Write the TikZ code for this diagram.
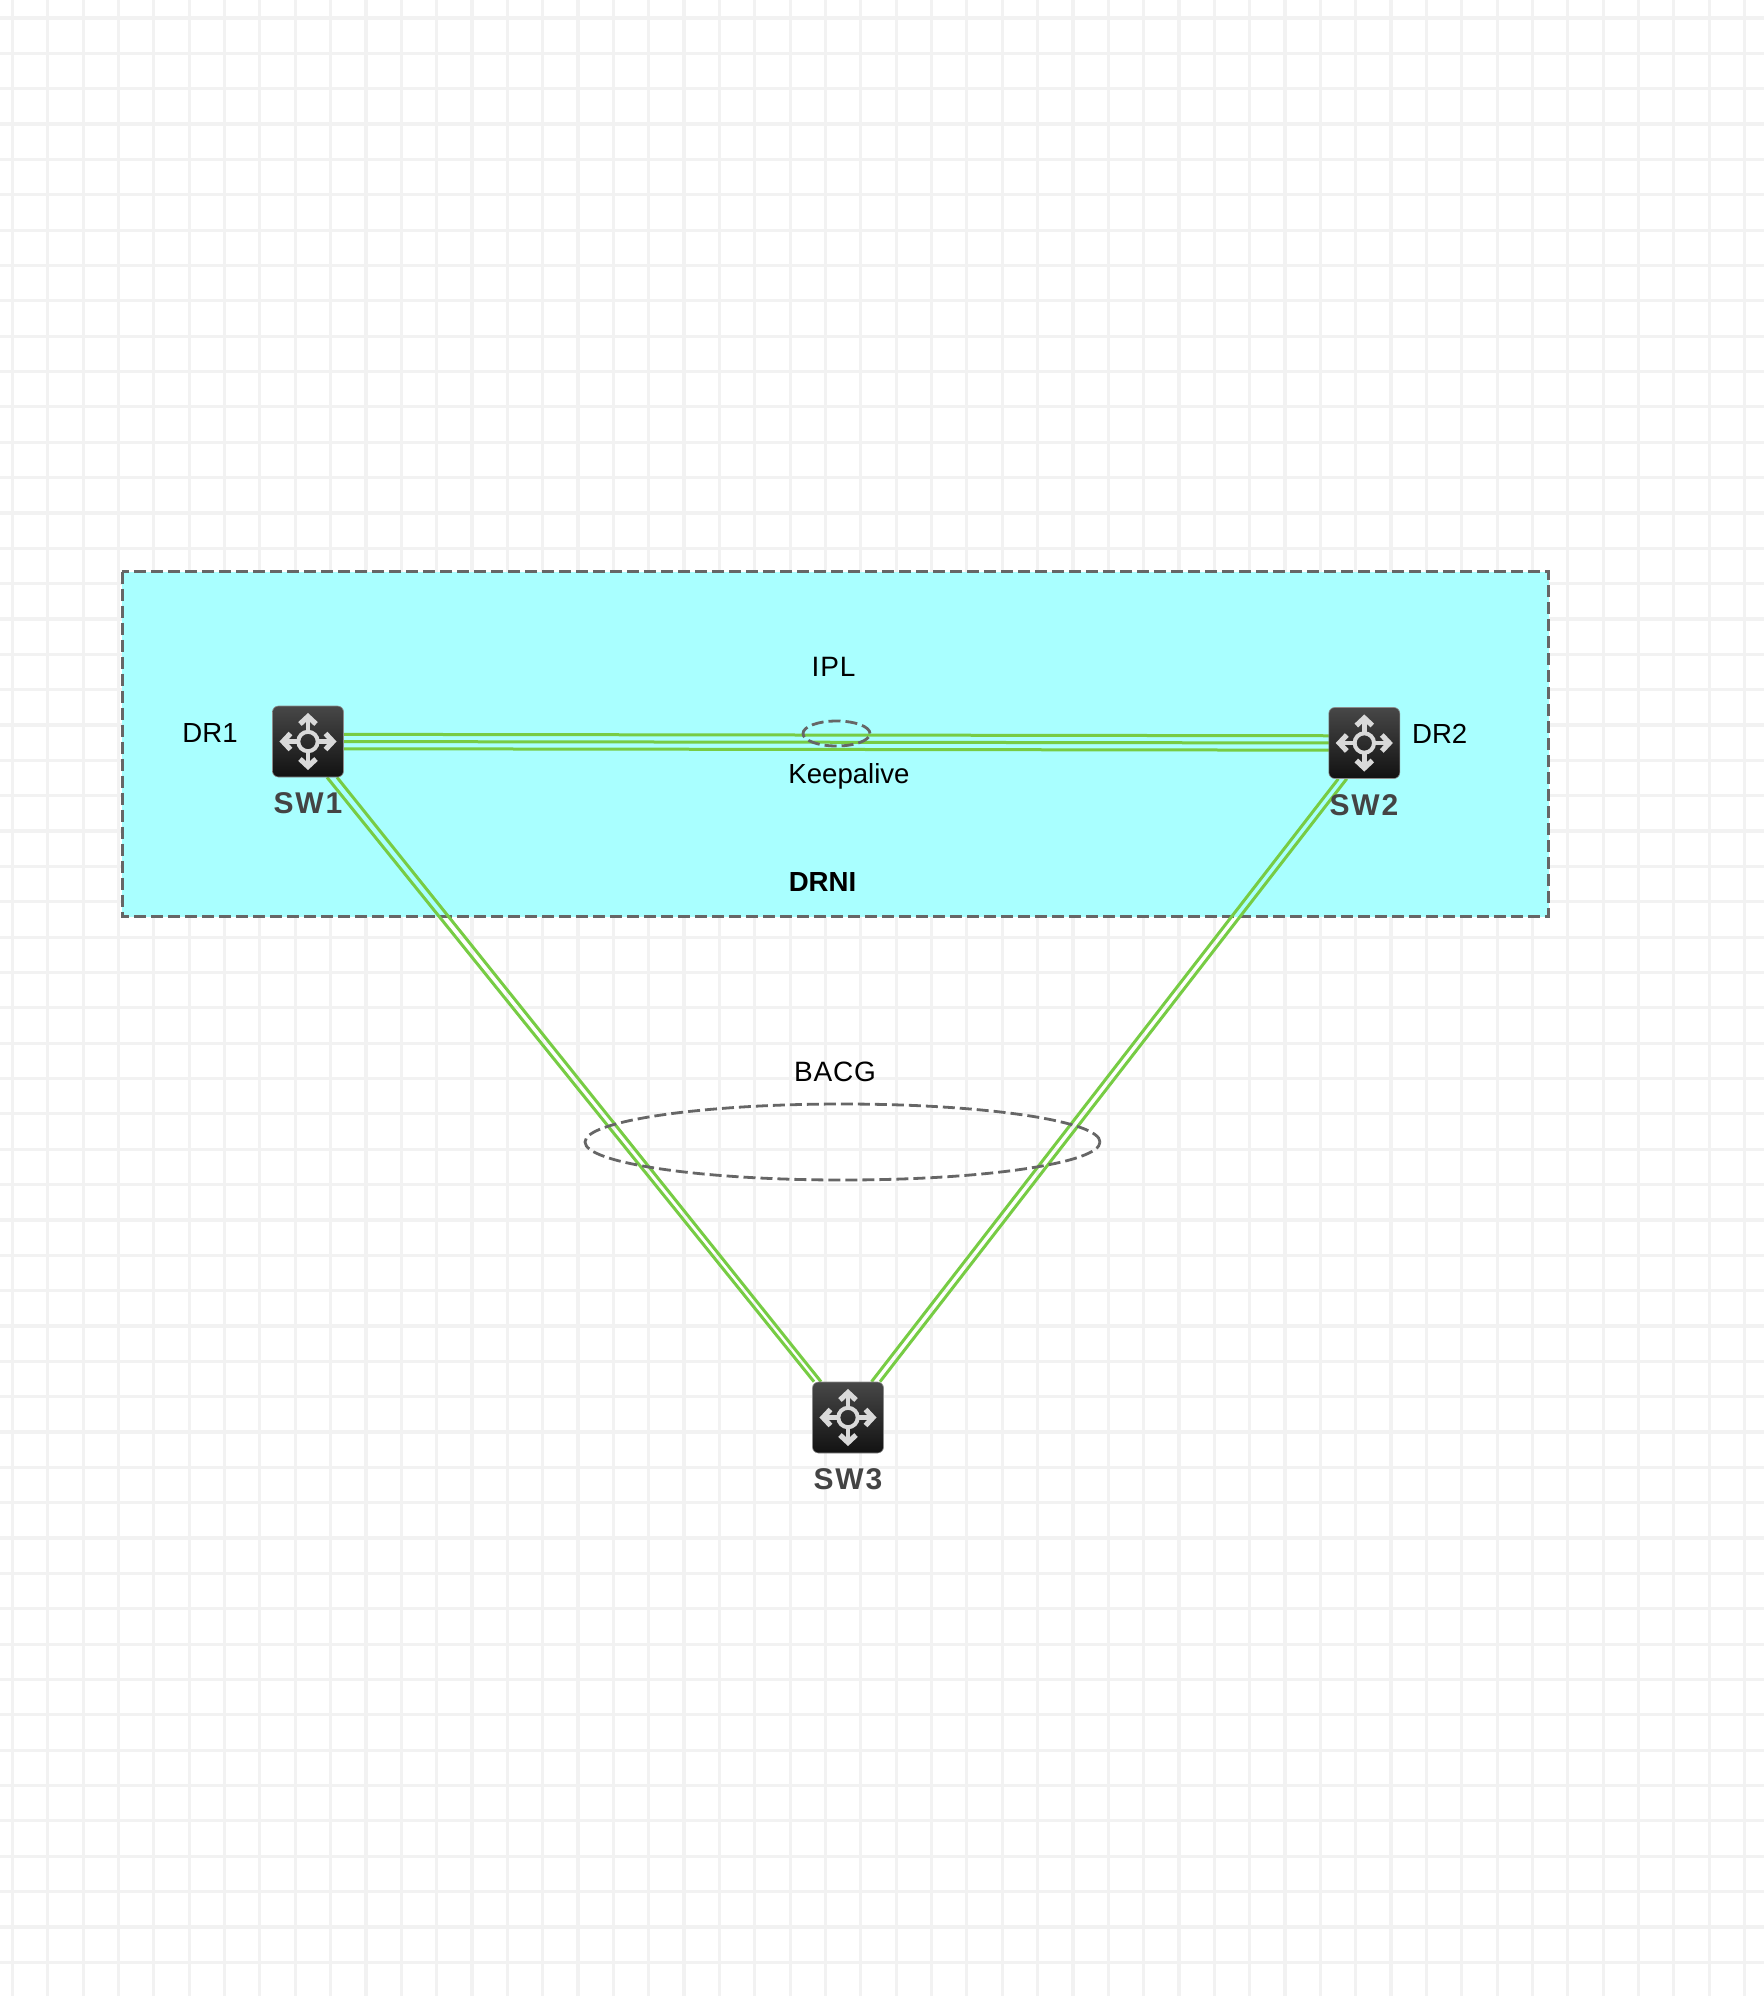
\documentclass[tikz,border=0pt]{standalone}
\usepackage{fontspec}
\setmainfont{Liberation Sans}
\newfontfamily\trackedfont[LetterSpace=3]{Liberation Sans}
\newfontfamily\swfont[LetterSpace=6]{Liberation Sans}
\usetikzlibrary{calc,shapes.geometric}
\pgfdeclarelayer{gridlayer}
\pgfdeclarelayer{linklayer}
\pgfsetlayers{gridlayer,linklayer,main}
\definecolor{gridc}{HTML}{F2F2F2}
\definecolor{zonec}{HTML}{A9FFFF}
\definecolor{dashc}{HTML}{666666}
\definecolor{linkc}{HTML}{77CC44}
\definecolor{swtext}{HTML}{444444}
\definecolor{iconc}{HTML}{D9D9D9}
\tikzset{
  x=0.5pt,y=-0.5pt,
  gridline/.style={gridc,line width=1.6pt},
  zone/.style={draw=dashc,fill=zonec,line width=1.5pt,dash pattern=on 6pt off 2.5pt},
  ring/.style={ellipse,draw=dashc,line width=1.4pt,dash pattern=on 6pt off 2.5pt,inner sep=0pt},
  link/.style={linkc,line width=1.5pt},
  swbox/.style={rectangle,rounded corners=3pt,minimum size=35.5pt,inner sep=0pt,
    draw=black!45,line width=0.3pt,top color=black!72,bottom color=black!93},
  swlabel/.style={anchor=base,inner sep=0pt,text=swtext,font={\swfont\fontsize{15}{18}\selectfont\bfseries}},
  plainlabel/.style={anchor=base,inner sep=0pt,text=black,font={\fontsize{13.8}{16}\selectfont}},
  tracklabel/.style={anchor=base,inner sep=0pt,text=black,font={\trackedfont\fontsize{14}{16}\selectfont}},
  swarrows/.pic={
    \draw[iconc,line width=2pt] (0,0) circle[radius=9.7];
    \foreach \a in {0,90,180,270}{
      \begin{scope}[rotate=\a]
        \draw[iconc,line width=2.4pt] (11,0)--(25,0);
        \draw[iconc,line width=2.6pt,miter limit=10] (17.5,-8)--(25,0)--(17.5,8);
      \end{scope}
    }
  }
}
\begin{document}
\begin{tikzpicture}
\useasboundingbox (0,0) rectangle (1764,1996);
\begin{pgfonlayer}{gridlayer}
  \fill[white] (0,0) rectangle (1764,1996);
  \foreach \k in {0,...,49} \draw[gridline] ({12.4+35.35*\k},0)--({12.4+35.35*\k},1996);
  \foreach \k in {0,...,56} \draw[gridline] (0,{18+35.35*\k})--(1764,{18+35.35*\k});
  \draw[zone] (122,571.5) rectangle (1548.5,916.5);
\end{pgfonlayer}

\node[swbox] (sw1) at (308,741.5) {};
\node[swbox] (sw2) at (1364.3,743) {};
\node[swbox] (sw3) at (848,1417.5) {};
\pic at (sw1) {swarrows};
\pic at (sw2) {swarrows};
\pic at (sw3) {swarrows};

\begin{pgfonlayer}{linklayer}
  \draw[link] ($(sw1.center)+(0,-7.2)$)--($(sw2.center)+(0,-7.2)$);
  \draw[link] (sw1.center)--(sw2.center);
  \draw[link] ($(sw1.center)+(0,7.2)$)--($(sw2.center)+(0,7.2)$);
  \draw[link] ($(sw1.south)+(19,0)$)--($(sw3.north)+(-34,0)$);
  \draw[link] ($(sw1.south)+(29,0)$)--($(sw3.north)+(-27,0)$);
  \draw[link] ($(sw2.south)+(-17.6,0)$)--($(sw3.north)+(32,0)$);
  \draw[link] ($(sw2.south)+(-26,0)$)--($(sw3.north)+(23.5,0)$);
\end{pgfonlayer}

\node[ring,minimum width=33.5pt,minimum height=12.5pt] (ipl) at (836.5,733.5) {};
\node[ring,minimum width=257.5pt,minimum height=38pt] (bacg) at (842.5,1142) {};

\node[swlabel] (l1) at (308,813.3) {SW1};
\node[swlabel] (l2) at (1364,815) {SW2};
\node[swlabel] (l3) at (848,1489) {SW3};
\node[plainlabel] (dr1) at (210,742) {DR1};
\node[plainlabel] (dr2) at (1439.7,743) {DR2};
\node[tracklabel] (tipl) at (833.5,676.7) {IPL};
\node[plainlabel] (tka) at (849,783.3) {Keepalive};
\node[tracklabel] (tbacg) at (835,1081) {BACG};
\node[plainlabel,font={\fontsize{13.8}{16}\selectfont\bfseries}] (drni) at (822.5,891) {DRNI};
\end{tikzpicture}
\end{document}
